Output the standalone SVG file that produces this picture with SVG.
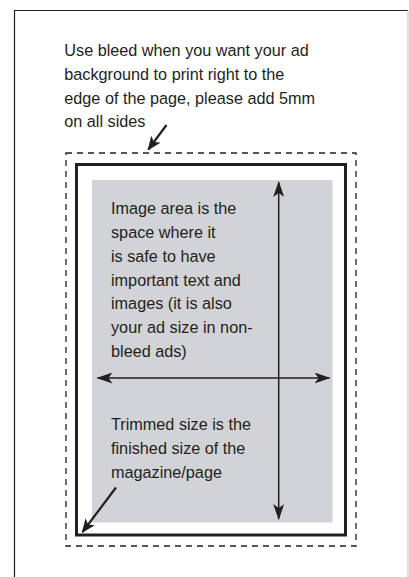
<svg xmlns="http://www.w3.org/2000/svg" width="409" height="577" viewBox="0 0 409 577">
<style>
.t{font-family:"Liberation Sans",Arial,sans-serif;font-size:17px;fill:#231f20}
.ln{stroke:#231f20;fill:none}
</style>
<defs>
<marker id="ah" viewBox="0 0 16 11" refX="15" refY="5.5" markerWidth="16" markerHeight="11" markerUnits="userSpaceOnUse" orient="auto">
<path d="M0,0 L16,5.5 L0,11 L4,5.5 Z" fill="#231f20"/>
</marker>
<marker id="ahb" viewBox="0 0 12 10" refX="11" refY="5" markerWidth="14" markerHeight="12" markerUnits="userSpaceOnUse" orient="auto">
<path d="M0,0 L12,5 L0,10 L3,5 Z" fill="#231f20"/>
</marker>
</defs>
<rect width="409" height="577" fill="#fff"/>
<g id="frame">
<path d="M14.5,577 V10.5 H408" class="ln" stroke-width="1.2"/>
<line x1="408" y1="10.5" x2="408" y2="577" stroke="#c8c8c8" stroke-width="1.2"/>
</g>
<g id="bleed">
<rect x="66" y="153" width="290" height="393" fill="none" stroke="#231f20" stroke-width="1.3" stroke-dasharray="6,5"/>
</g>
<g id="trim">
<rect x="76.5" y="164.5" width="269" height="370.5" fill="#fff" stroke="#231f20" stroke-width="3"/>
</g>
<g id="image-area">
<rect x="92" y="180" width="240.5" height="342.5" fill="#d2d3d7"/>
</g>
<g id="connectors">
<line x1="278.7" y1="200" x2="278.7" y2="182" class="ln" stroke-width="1.5" marker-end="url(#ah)"/>
<line x1="278.7" y1="200" x2="278.7" y2="519" class="ln" stroke-width="1.5" marker-end="url(#ah)"/>
<line x1="120" y1="378" x2="97.5" y2="378" class="ln" stroke-width="1.5" marker-end="url(#ah)"/>
<line x1="120" y1="378" x2="329.5" y2="378" class="ln" stroke-width="1.5" marker-end="url(#ah)"/>
<line x1="166.5" y1="125" x2="148.3" y2="149.5" class="ln" stroke-width="2.2" marker-end="url(#ahb)"/>
<line x1="116" y1="487.5" x2="82.5" y2="532" class="ln" stroke-width="2.2" marker-end="url(#ahb)"/>
</g>
<g id="bleed-label" transform="translate(64.3,0) scale(0.955,1)">
<text class="t"><tspan x="0" y="56">Use bleed when you want your ad</tspan><tspan x="0" y="80">background to print right to the</tspan><tspan x="0" y="104">edge of the page, please add 5mm</tspan><tspan x="0" y="127.5">on all sides</tspan></text>
</g>
<g id="image-label" transform="translate(111,0) scale(0.955,1)">
<text class="t"><tspan x="0" y="214">Image area is the</tspan><tspan x="0" y="238">space where it</tspan><tspan x="0" y="262">is safe to have</tspan><tspan x="0" y="286">important text and</tspan><tspan x="0" y="309.5">images (it is also</tspan><tspan x="0" y="333.5">your ad size in non-</tspan><tspan x="0" y="357.5">bleed ads)</tspan></text>
</g>
<g id="trim-label" transform="translate(111,0) scale(0.955,1)">
<text class="t"><tspan x="0" y="430">Trimmed size is the</tspan><tspan x="0" y="454">finished size of the</tspan><tspan x="0" y="478">magazine/page</tspan></text>
</g>
</svg>
